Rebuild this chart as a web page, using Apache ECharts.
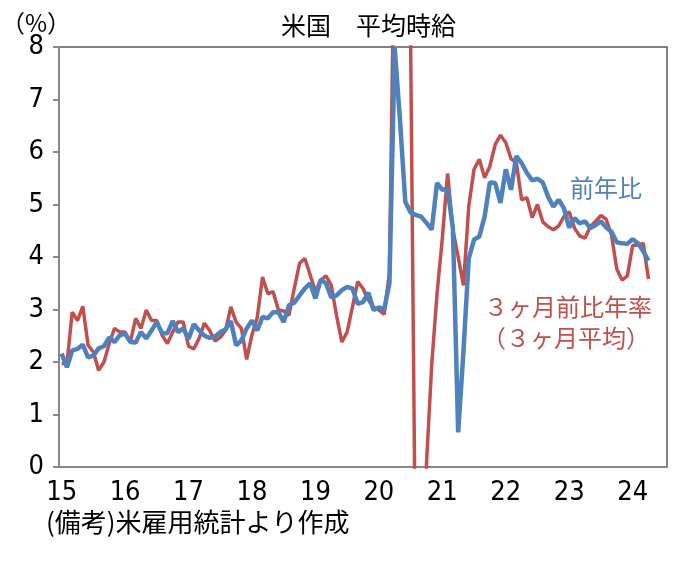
<!DOCTYPE html>
<html>
<head>
<meta charset="utf-8">
<script src="https://cdn.jsdelivr.net/npm/echarts@6/dist/echarts.min.js"></script>
<style>
html, body { margin: 0; padding: 0; background: #fff; }
#graph { width: 684px; height: 564px; }
</style>
</head>
<body>
<div id="graph"></div>
<script>
// year tick labels (shown at each January)
var yearLabels = ['15', '16', '17', '18', '19', '20', '21', '22', '23', '24'];
var monthsShown = 115; // Jan 2015 .. Jul 2024 (axis runs a little past the data)

// 前年比 (YoY, %), Jan 2015 - Apr 2024
var yoy = [
  2.16, 1.90, 2.22, 2.25, 2.33, 2.09, 2.12, 2.26, 2.30, 2.47, 2.38, 2.51,
  2.54, 2.38, 2.37, 2.57, 2.45, 2.60, 2.76, 2.55, 2.55, 2.78, 2.57, 2.64,
  2.44, 2.72, 2.60, 2.50, 2.46, 2.48, 2.57, 2.62, 2.78, 2.32, 2.41, 2.64,
  2.79, 2.60, 2.86, 2.83, 2.95, 2.95, 2.76, 3.08, 3.13, 3.27, 3.40, 3.50,
  3.21, 3.57, 3.50, 3.23, 3.27, 3.37, 3.43, 3.40, 3.11, 3.14, 3.32, 2.99,
  3.04, 3.00, 3.50, 7.98, 6.60, 5.05, 4.85, 4.80, 4.77, 4.65, 4.52, 5.41,
  5.28, 5.30, 4.55, 0.66, 2.20, 3.97, 4.33, 4.39, 4.77, 5.42, 5.41, 5.03,
  5.67, 5.28, 5.92, 5.79, 5.60, 5.46, 5.49, 5.42, 5.15, 4.96, 5.09, 4.93,
  4.56, 4.74, 4.64, 4.68, 4.55, 4.61, 4.68, 4.56, 4.48, 4.28, 4.26, 4.25,
  4.34, 4.26, 4.11, 3.93
];

// ３ヶ月前比年率（３ヶ月平均）(%), Jan 2015 - Apr 2024
var threeMonth = [
  1.97, 1.97, 2.95, 2.79, 3.06, 2.32, 2.19, 1.84, 2.00, 2.35, 2.64, 2.57,
  2.57, 2.38, 2.83, 2.64, 2.99, 2.79, 2.79, 2.51, 2.35, 2.57, 2.76, 2.76,
  2.30, 2.25, 2.45, 2.74, 2.60, 2.40, 2.47, 2.60, 3.05, 2.76, 2.64, 2.05,
  2.52, 2.85, 3.62, 3.30, 3.34, 2.99, 2.97, 2.89, 3.40, 3.88, 3.97, 3.66,
  3.34, 3.56, 3.64, 3.46, 2.88, 2.38, 2.57, 3.05, 3.53, 3.40, 3.18, 3.04,
  2.99, 2.91, 3.70, 10.7, 30.0, 25.0, 8.20, -2.7, -6.0, 0.05, 1.95, 3.30,
  4.35, 5.59, 4.52, 4.00, 3.46, 4.96, 5.67, 5.86, 5.51, 5.73, 6.14, 6.32,
  6.18, 5.87, 5.80, 5.09, 5.13, 4.75, 5.00, 4.67, 4.58, 4.52, 4.59, 4.77,
  4.86, 4.55, 4.40, 4.36, 4.58, 4.68, 4.79, 4.72, 4.42, 3.77, 3.56, 3.64,
  4.22, 4.23, 4.26, 3.58
];

var months = [];
yearLabels.forEach(function (y) {
  for (var m = 1; m <= 12; m++) {
    months.push(y + '/' + m);
  }
});
months = months.slice(0, monthsShown);

var chartDom = document.getElementById('graph');
var myChart = echarts.init(chartDom);
var option;

var cjk = "'Noto Sans CJK JP', 'Noto Sans', sans-serif";
var narrow = "'Liberation Sans Narrow', 'DejaVu Sans Condensed', sans-serif";

option = {
  animation: false,
  backgroundColor: '#fff',
  title: {
    text: '米国　平均時給',
    left: 276,
    top: 8,
    textStyle: {
      fontFamily: cjk,
      fontSize: 25,
      fontWeight: 'normal',
      color: '#000'
    }
  },
  grid: {
    left: 59,
    right: 17,
    top: 47,
    bottom: 97,
    show: true,
    borderColor: '#595959',
    borderWidth: 1.5
  },
  xAxis: {
    type: 'category',
    data: months,
    boundaryGap: true,
    axisLine: { lineStyle: { color: '#898989', width: 2 } },
    axisTick: { show: false },
    splitLine: { show: false },
    axisLabel: {
      interval: function (index) { return index % 12 === 0; },
      formatter: function (value) { return value.split('/')[0]; },
      fontFamily: narrow,
      fontSize: 27,
      color: '#000',
      margin: 12
    }
  },
  yAxis: {
    type: 'value',
    min: 0,
    max: 8,
    interval: 1,
    axisLine: { show: true, lineStyle: { color: '#898989', width: 2 } },
    axisTick: { show: true, inside: false, length: 6, lineStyle: { color: '#898989', width: 2 } },
    splitLine: { show: false },
    axisLabel: {
      fontFamily: narrow,
      fontSize: 27,
      color: '#000',
      margin: 15
    }
  },
  series: [
    {
      name: '３ヶ月前比年率（３ヶ月平均）',
      type: 'line',
      data: threeMonth,
      showSymbol: false,
      clip: true,
      lineStyle: { color: '#C0504D', width: 3.5 },
      itemStyle: { color: '#C0504D' }
    },
    {
      name: '前年比',
      type: 'line',
      data: yoy,
      showSymbol: false,
      clip: true,
      lineStyle: { color: '#4F81BD', width: 4.5 },
      itemStyle: { color: '#4F81BD' }
    }
  ],
  graphic: [
    {
      type: 'text', x: 36, y: 23,
      style: { text: '（%）', font: '24px ' + cjk, fill: '#000', textAlign: 'center', textVerticalAlign: 'middle' }
    },
    {
      type: 'text', x: 606, y: 188,
      style: { text: '前年比', font: '24px ' + cjk, fill: '#4F81BD', textAlign: 'center', textVerticalAlign: 'middle' }
    },
    {
      type: 'text', x: 568, y: 307,
      style: { text: '３ヶ月前比年率', font: '24px ' + cjk, fill: '#C0504D', textAlign: 'center', textVerticalAlign: 'middle' }
    },
    {
      type: 'text', x: 566, y: 338,
      style: { text: '（３ヶ月平均）', font: '24px ' + cjk, fill: '#C0504D', textAlign: 'center', textVerticalAlign: 'middle' }
    },
    {
      type: 'text', x: 46, y: 522,
      style: { text: '(備考)米雇用統計より作成', font: '26px ' + cjk, fill: '#000', textAlign: 'left', textVerticalAlign: 'middle' }
    }
  ]
};

option && myChart.setOption(option);
</script>
</body>
</html>
